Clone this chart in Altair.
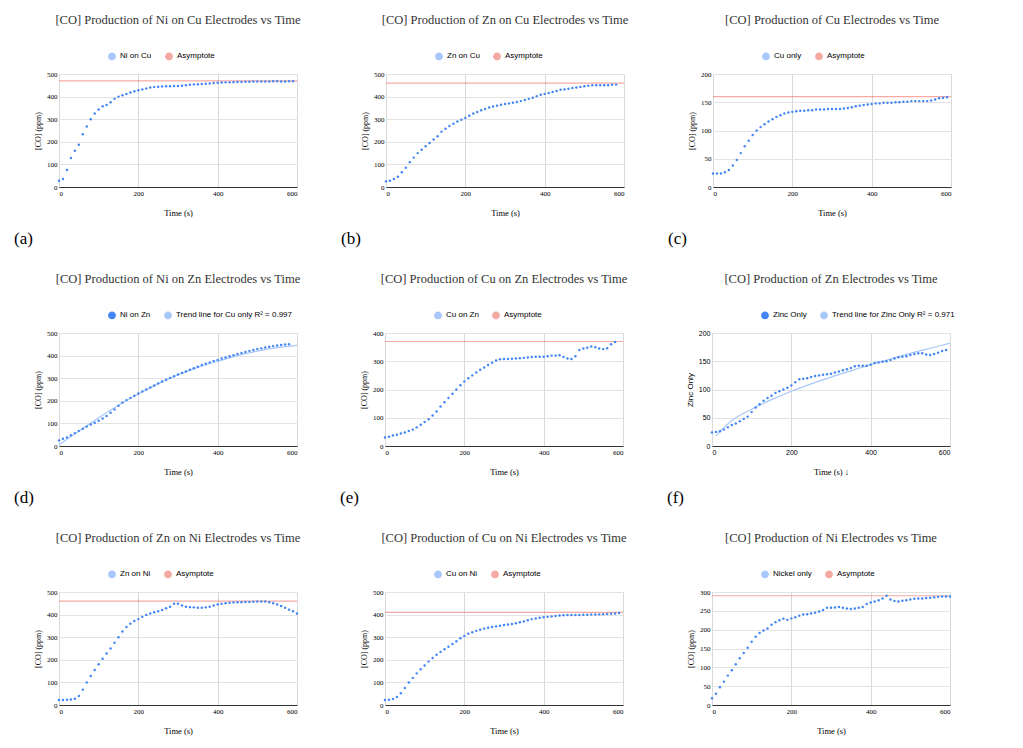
import pandas as pd
import altair as alt

BLUE = "#4285f4"
RED = "#ea4335"
SERIF = "Liberation Serif"
SANS = "Liberation Sans"

ni_on_cu = [28, 35, 75, 128, 160, 187, 233, 268, 300, 325,
            343, 357, 363, 375, 390, 400, 406, 412, 418, 424,
            428, 432, 436, 440, 442, 444, 445, 446, 446, 447,
            447, 448, 450, 452, 454, 455, 456, 457, 458, 460,
            461, 462, 463, 463, 464, 465, 465, 466, 466, 467,
            467, 467, 467, 467, 468, 468, 467, 467, 468, 468]
zn_on_cu = [25, 28, 35, 45, 65, 85, 110, 130, 150, 165,
            180, 195, 210, 225, 245, 258, 270, 280, 290, 298,
            305, 315, 325, 332, 340, 345, 352, 356, 360, 364,
            367, 370, 373, 376, 380, 385, 390, 395, 402, 408,
            412, 416, 420, 425, 430, 432, 435, 438, 440, 443,
            446, 448, 450, 450, 450, 450, 450, 452, 453]
cu_only = [24, 24, 24, 26, 30, 38, 48, 60, 72, 82,
           92, 100, 106, 111, 116, 120, 124, 127, 130, 132,
           133, 134, 135, 135, 136, 136, 137, 137, 137, 138,
           138, 138, 138, 139, 140, 141, 143, 144, 145, 146,
           147, 148, 148, 149, 149, 149, 150, 150, 151, 151,
           152, 152, 152, 152, 152, 153, 155, 157, 158, 159]
ni_on_zn = [25, 32, 38, 48, 57, 67, 76, 86, 95, 103,
            112, 122, 133, 147, 162, 178, 192, 203, 213, 222,
            232, 241, 250, 259, 268, 277, 285, 293, 301, 309,
            316, 323, 330, 337, 344, 351, 358, 364, 370, 376,
            381, 387, 392, 397, 402, 407, 412, 416, 421, 425,
            429, 432, 436, 439, 442, 445, 447, 449, 450]
ni_on_zn_trend_x = [0, 50, 100, 150, 200, 250, 300, 350, 400, 450, 500, 550, 600]
ni_on_zn_trend = [5, 65, 125, 180, 230, 275, 315, 348, 375, 400, 420, 435, 445]
cu_on_zn = [30, 33, 37, 40, 44, 48, 53, 58, 66, 75,
            85, 95, 108, 122, 140, 155, 170, 185, 200, 215,
            228, 240, 250, 260, 270, 278, 287, 295, 303, 307,
            308, 308, 309, 310, 311, 312, 313, 315, 316, 316,
            316, 318, 320, 320, 321, 315, 310, 308, 318, 340,
            345, 348, 352, 350, 345, 343, 346, 360, 368]
zinc_only = [24, 25, 26, 29, 33, 37, 40, 44, 48, 52,
             60, 68, 74, 80, 85, 89, 94, 97, 100, 103,
             107, 113, 118, 119, 120, 122, 124, 125, 126, 127,
             128, 130, 132, 134, 136, 138, 141, 142, 142, 142,
             144, 147, 148, 149, 150, 152, 155, 157, 158, 159,
             161, 163, 164, 164, 162, 161, 163, 165, 168, 170]
zinc_trend_x = [10, 50, 100, 150, 200, 250, 300, 350, 400, 450, 500, 550, 600]
zinc_trend = [18, 45, 65, 82, 97, 110, 122, 133, 144, 154, 164, 173, 182]
zn_on_ni = [22, 22, 23, 24, 28, 40, 68, 100, 128, 155,
            180, 205, 228, 250, 275, 300, 325, 345, 360, 372,
            380, 390, 398, 405, 410, 415, 420, 428, 435, 448,
            448, 440, 435, 433, 432, 430, 430, 432, 435, 440,
            445, 448, 450, 452, 454, 455, 455, 456, 456, 457,
            458, 458, 458, 455, 450, 445, 438, 430, 422, 415, 405]
cu_on_ni = [22, 23, 27, 35, 52, 75, 100, 120, 140, 158,
            175, 192, 208, 222, 235, 247, 258, 270, 282, 295,
            305, 315, 322, 328, 333, 338, 342, 345, 348, 351,
            354, 356, 358, 362, 366, 370, 375, 380, 383, 386,
            388, 390, 392, 394, 396, 397, 398, 398, 398, 398,
            399, 399, 400, 400, 401, 402, 403, 404, 405, 407]
nickel_only = [18, 30, 47, 62, 78, 92, 108, 124, 138, 152,
               168, 181, 191, 198, 203, 213, 220, 225, 229, 226,
               230, 233, 237, 240, 241, 243, 245, 248, 252, 258,
               258, 259, 260, 258, 256, 255, 256, 258, 260, 268,
               272, 275, 278, 283, 290, 280, 276, 275, 277, 278,
               280, 282, 283, 283, 284, 285, 286, 287, 288, 288, 288]

W, H = 238, 113


def panel(title, name, values, ymax, label, asymptote=None, trend=None,
          ytitle="[CO] (ppm)", xtitle="Time (s)", font=SERIF):
    df = pd.DataFrame({"t": [i * 10 for i in range(len(values))], "v": values, "s": name})
    second = trend[0] if trend else "Asymptote"
    second_color = "#a8c7fa" if trend else RED
    cscale = alt.Scale(domain=[name, second], range=[BLUE, second_color])
    legend = alt.Legend(title=None, orient="none", direction="horizontal",
                        legendX=W / 2 - 70, legendY=-22, labelFont=SANS,
                        labelFontSize=8, symbolSize=40, symbolType="circle",
                        columnPadding=10)
    color = alt.Color("s:N", scale=cscale, legend=legend)
    x = alt.X("t:Q", title=xtitle, scale=alt.Scale(domain=[0, 600], nice=False),
              axis=alt.Axis(values=[0, 200, 400, 600], labelFont=font, labelFontSize=7,
                            titleFont=SERIF, titleFontSize=8.5, titlePadding=12,
                            titleFontWeight="normal", gridColor="#d9d9d9",
                            domainColor="#333", ticks=False))
    y = alt.Y("v:Q", title=ytitle, scale=alt.Scale(domain=[0, ymax], nice=False),
              axis=alt.Axis(tickCount=5, labelFont=font, labelFontSize=7,
                            titleFont=SERIF if ytitle != "Zinc Only" else SANS,
                            titleFontSize=8, titleFontWeight="normal",
                            gridColor="#e3e3e3", domain=False, ticks=False))
    points = alt.Chart(df).mark_circle(size=6, opacity=1).encode(x=x, y=y, color=color)
    layers = []
    if asymptote is not None:
        adf = pd.DataFrame({"v": [asymptote], "s": ["Asymptote"]})
        layers.append(alt.Chart(adf).mark_rule(strokeWidth=1.2, opacity=0.45).encode(
            y="v:Q", color=color))
    if trend:
        tdf = pd.DataFrame({"t": trend[1], "v": trend[2], "s": trend[0]})
        layers.append(alt.Chart(tdf).mark_line(strokeWidth=1.2, interpolate="monotone").encode(
            x="t:Q", y="v:Q", color=color))
    lab = alt.Chart(pd.DataFrame({"s": [label]})).mark_text(
        font=SERIF, fontSize=17, align="left", baseline="middle", color="black").encode(
        text="s:N", x=alt.value(-45), y=alt.value(H + 52))
    return alt.layer(*layers, points, lab).properties(
        width=W, height=H,
        title=alt.TitleParams(title, font=SERIF, fontSize=12.5, fontWeight="normal",
                              color="#333", offset=26))


def row(*panels):
    return alt.hconcat(*panels, spacing=38).resolve_scale(color="independent")


row1 = row(
    panel("[CO] Production of Ni on Cu Electrodes vs Time", "Ni on Cu", ni_on_cu, 500, "(a)", 470),
    panel("[CO] Production of Zn on Cu Electrodes vs Time", "Zn on Cu", zn_on_cu, 500, "(b)", 460),
    panel("[CO] Production of Cu Electrodes vs Time", "Cu only", cu_only, 200, "(c)", 160))
row2 = row(
    panel("[CO] Production of Ni on Zn Electrodes vs Time", "Ni on Zn", ni_on_zn, 500, "(d)",
          trend=("Trend line for Cu only R² = 0.997", ni_on_zn_trend_x, ni_on_zn_trend)),
    panel("[CO] Production of Cu on Zn Electrodes vs Time", "Cu on Zn", cu_on_zn, 400, "(e)", 370),
    panel("[CO] Production of Zn Electrodes vs Time", "Zinc Only", zinc_only, 200, "(f)",
          trend=("Trend line for Zinc Only R² = 0.971", zinc_trend_x, zinc_trend),
          ytitle="Zinc Only", xtitle="Time (s) ↓", font=SANS))
row3 = row(
    panel("[CO] Production of Zn on Ni Electrodes vs Time", "Zn on Ni", zn_on_ni, 500, "(g)", 460),
    panel("[CO] Production of Cu on Ni Electrodes vs Time", "Cu on Ni", cu_on_ni, 500, "(h)", 410),
    panel("[CO] Production of Ni Electrodes vs Time", "Nickel only", nickel_only, 300, "(i)", 290))

chart = alt.vconcat(row1, row2, row3, spacing=24).resolve_scale(
    color="independent").configure_view(stroke=None).configure(background="white")
chart.save("out.html", embed_options={"renderer": "svg", "actions": False})
